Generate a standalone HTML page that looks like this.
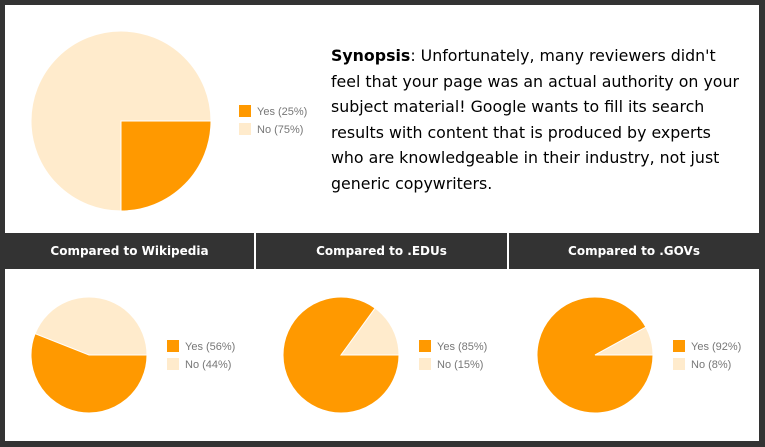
<!DOCTYPE html>
<html><head><meta charset="utf-8"><style>
body{margin:0;width:765px;height:447px;background:#333;position:relative;overflow:hidden;font-family:"Liberation Sans",sans-serif}
.w{position:absolute;background:#fff}
.hd{position:absolute;top:233px;height:36px;background:#333;color:#fff;font:bold 12px "DejaVu Sans",sans-serif;display:flex;align-items:center;justify-content:center}
.syn{position:absolute;left:331px;top:43px;font:15.8px/25.6px "DejaVu Sans",sans-serif;color:#000;white-space:nowrap}
</style></head><body>
<div class="w" style="left:5px;top:5px;width:754px;height:436px"></div>
<div class="hd" style="left:5px;width:249px">Compared to Wikipedia</div>
<div class="hd" style="left:256px;width:251px">Compared to .EDUs</div>
<div class="hd" style="left:509px;width:250px">Compared to .GOVs</div>
<div class="syn"><b>Synopsis</b>: Unfortunately, many reviewers didn't<br>feel that your page was an actual authority on your<br>subject material! Google wants to fill its search<br>results with content that is produced by experts<br>who are knowledgeable in their industry, not just<br>generic copywriters.</div>
<svg width="765" height="447" style="position:absolute;left:0;top:0" font-family="Liberation Sans, sans-serif" font-size="11" fill="#777">
<g stroke="#fff" stroke-width="1">
<circle cx="121" cy="121" r="90" fill="#ffebcc"/>
<path d="M121,121 L211,121 A90,90 0 0 1 121,211 Z" fill="#ff9900"/>
<circle cx="89" cy="355" r="58" fill="#ffebcc"/>
<path d="M89,355 L147,355 A58,58 0 1 1 35.07,333.65 Z" fill="#ff9900"/>
<circle cx="341" cy="355" r="58" fill="#ffebcc"/>
<path d="M341,355 L399,355 A58,58 0 1 1 375.09,308.08 Z" fill="#ff9900"/>
<circle cx="595" cy="355" r="58" fill="#ffebcc"/>
<path d="M595,355 L653,355 A58,58 0 1 1 645.83,327.06 Z" fill="#ff9900"/>
</g>
<rect x="239" y="105" width="12" height="12" fill="#ff9900"/><rect x="239" y="123" width="12" height="12" fill="#ffebcc"/>
<text x="257" y="115">Yes (25%)</text><text x="257" y="133">No (75%)</text>
<rect x="167" y="340" width="12" height="12" fill="#ff9900"/><rect x="167" y="358" width="12" height="12" fill="#ffebcc"/>
<text x="185" y="350">Yes (56%)</text><text x="185" y="368">No (44%)</text>
<rect x="419" y="340" width="12" height="12" fill="#ff9900"/><rect x="419" y="358" width="12" height="12" fill="#ffebcc"/>
<text x="437" y="350">Yes (85%)</text><text x="437" y="368">No (15%)</text>
<rect x="673" y="340" width="12" height="12" fill="#ff9900"/><rect x="673" y="358" width="12" height="12" fill="#ffebcc"/>
<text x="691" y="350">Yes (92%)</text><text x="691" y="368">No (8%)</text>
</svg>
</body></html>
